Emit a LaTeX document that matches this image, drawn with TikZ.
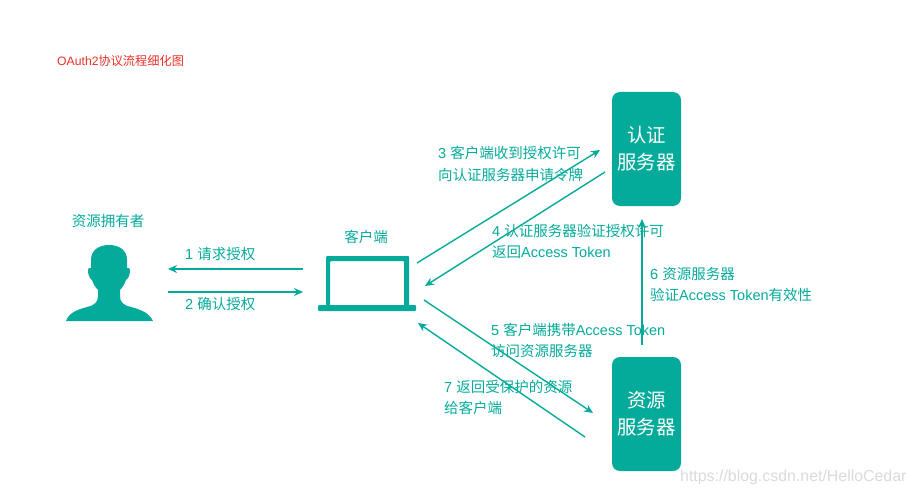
\documentclass[tikz,border=0pt]{standalone}
\usepackage{xcolor}
\usepackage{fontspec}
\setmainfont{Liberation Sans}
\newfontfamily\cjk{Noto Sans CJK SC}
\usetikzlibrary{arrows.meta,positioning}
\definecolor{Flow}{HTML}{04AA9A}
\definecolor{Note}{HTML}{E8302A}
\definecolor{Mark}{HTML}{DADADA}
\tikzset{
  flow/.style={draw=Flow,line width=1.4pt,-{Stealth[length=9pt,width=8pt]}},
  server/.style={fill=Flow,rounded corners=8pt,minimum width=69pt,minimum height=114pt,inner sep=0pt,
    text=white,align=center,font=\fontsize{19.4}{27}\selectfont\cjk},
  lab/.style={text=Flow,align=left,anchor=west,inner sep=0pt,font=\fontsize{14.5}{21.5}\selectfont}
}
\begin{document}
\begin{tikzpicture}[x=1pt,y=-1pt]
  \useasboundingbox (0,0) rectangle (916,495);
  \node[anchor=west,inner sep=0pt,text=Note,font=\fontsize{12.2}{14}\selectfont] (title) at (57,61) {OAuth2{\cjk 协议流程细化图}};
  % servers
  \node[server] (auth) at (646.5,149) {认证\\服务器};
  \node[server] (res) at (646.5,414) {资源\\服务器};
  % owner
  \fill[Flow] (66,321) .. controls (69,313) and (76,310) .. (87,307)
    .. controls (95,305) and (98,302) .. (98,296) -- (98,290)
    .. controls (95,287) and (93,283) .. (92,280)
    .. controls (89,278) and (88,274) .. (88,270)
    .. controls (88,268) and (89,268) .. (91,268)
    -- (91,260) .. controls (91,250) and (99,245) .. (109,245)
    .. controls (119,245) and (127,250) .. (127,260) -- (127,268)
    .. controls (129,268) and (130,268) .. (130,270)
    .. controls (130,274) and (129,278) .. (126,280)
    .. controls (125,283) and (123,287) .. (120,290) -- (120,296)
    .. controls (120,302) and (123,305) .. (131,307)
    .. controls (142,310) and (149,313) .. (153,321) -- cycle;
  \node[lab,anchor=center] (ownerlab) at (108,221) {\cjk 资源拥有者};
  % laptop
  \fill[Flow,even odd rule,rounded corners=1pt] (326,256) rectangle (409,306) (330,261) rectangle (404,306);
  \fill[Flow,rounded corners=1pt] (318,305) rectangle (416,311);
  \node[lab,anchor=center] (clientlab) at (366,237) {\cjk 客户端};
  % arrow ends
  \coordinate (a1s) at (303,269);   \coordinate (a1e) at (168,269);
  \coordinate (a2s) at (168,292);   \coordinate (a2e) at (303,292);
  \coordinate (a3s) at (417,263);   \coordinate (a3e) at (600,150);
  \coordinate (a4s) at (605,172);   \coordinate (a4e) at (425,286);
  \coordinate (a5s) at (424,300);   \coordinate (a5e) at (593,413);
  \coordinate (a6s) at (642,345);   \coordinate (a6e) at (642,219);
  \coordinate (a7s) at (585,437);   \coordinate (a7e) at (418,323);
  \foreach \i in {1,...,7} {
    \draw[flow] (a\i s) -- (a\i e);
  }
  % labels
  \node[lab] (step1) at (185,254) {1 {\cjk 请求授权}};
  \node[lab] (step2) at (185,304) {2 {\cjk 确认授权}};
  \node[lab] (step3) at (438,164) {3 {\cjk 客户端收到授权许可}\\{\cjk 向认证服务器申请令牌}};
  \node[lab] (step4) at (492,241.5) {4 {\cjk 认证服务器验证授权许可}\\{\cjk 返回}Access Token};
  \node[lab] (step5) at (491,340.5) {5 {\cjk 客户端携带}Access Token\\{\cjk 访问资源服务器}};
  \node[lab] (step6) at (650,284.5) {6 {\cjk 资源服务器}\\{\cjk 验证}Access Token{\cjk 有效性}};
  \node[lab] (step7) at (444,397.5) {7 {\cjk 返回受保护的资源}\\{\cjk 给客户端}};
  \node[anchor=west,inner sep=0pt,text=Mark,font=\fontsize{15.9}{18}\selectfont] (mark) at (680,477) {https://blog.csdn.net/HelloCedar};
\end{tikzpicture}
\end{document}
